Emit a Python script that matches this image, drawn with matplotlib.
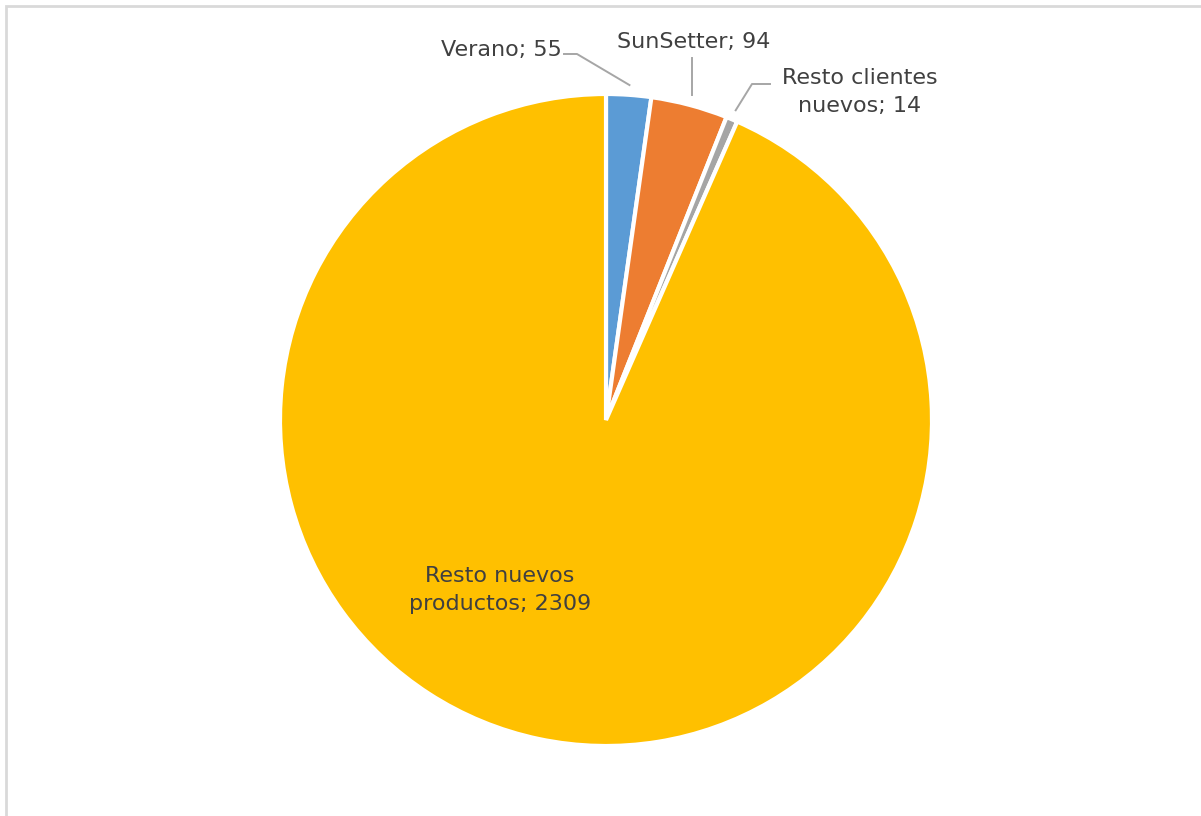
import matplotlib
matplotlib.use('Agg')
import matplotlib.pyplot as plt
import numpy as np
from matplotlib.patches import Rectangle

# data
labels = ['Verano', 'SunSetter', 'Resto clientes\nnuevos', 'Resto nuevos\nproductos']
values = [55, 94, 14, 2309]
colors = ['#5B9BD5', '#ED7D31', '#A5A5A5', '#FFC000']

W, H = 1201, 816
fig = plt.figure(figsize=(W / 100, H / 100), dpi=100)

# light frame of the chart area (only top and left edges visible)
fig.patches.append(Rectangle((6 / W, -0.1), 1.2, 1 - 6 / H + 0.1, transform=fig.transFigure,
                             fill=False, edgecolor='#D9D9D9', linewidth=2))

cx, cy, r = 606, 420, 326
ax = fig.add_axes([(cx - r) / W, (H - cy - r) / H, 2 * r / W, 2 * r / H])

wedges, _ = ax.pie(values, colors=colors, startangle=90, counterclock=False, radius=1,
                   wedgeprops=dict(edgecolor='white', linewidth=3))
# pie() sets its own limits, so reset them afterwards
ax.set_xlim(-1, 1)
ax.set_ylim(-1, 1)
ax.axis('off')

def px(x, y):
    # pixel position -> data coords of the pie axes
    return (x - cx) / r, (cy - y) / r

txt = dict(fontsize=16, color='#404040', family='DejaVu Sans')
lc = '#A6A6A6'

def mid_pt(w, rad):
    a = np.deg2rad((w.theta1 + w.theta2) / 2)
    return rad * np.cos(a), rad * np.sin(a)

# Verano
x0, y0 = px(564, 54)
ax.text(*px(562, 50), f'{labels[0]}; {values[0]}', ha='right', va='center', **txt)
kx, ky = px(577, 54)
ex, ey = mid_pt(wedges[0], 1.03)
ax.plot([x0, kx, ex], [y0, ky, ey], color=lc, lw=1.4, clip_on=False)

# SunSetter
ax.text(*px(694, 42), f'{labels[1]}; {values[1]}', ha='center', va='center', **txt)
ex, ey = mid_pt(wedges[1], 1.03)
tx, ty = px(693, 58)
ax.plot([ex, ex], [ty, ey], color=lc, lw=1.4, clip_on=False)

# Resto clientes nuevos
ax.text(*px(860, 92), f'{labels[2]}; {values[2]}', ha='center', va='center',
        linespacing=1.45, **txt)
ex, ey = mid_pt(wedges[2], 1.03)
k1 = px(752, 84)
k2 = px(770, 84)
ax.plot([k2[0], k1[0], ex], [k2[1], k1[1], ey], color=lc, lw=1.4, clip_on=False)

# Resto nuevos productos (inside)
ax.text(*px(500, 590), f'{labels[3]}; {values[3]}', ha='center', va='center',
        linespacing=1.45, **txt)

fig.savefig('out.png', dpi=100, facecolor='white')
